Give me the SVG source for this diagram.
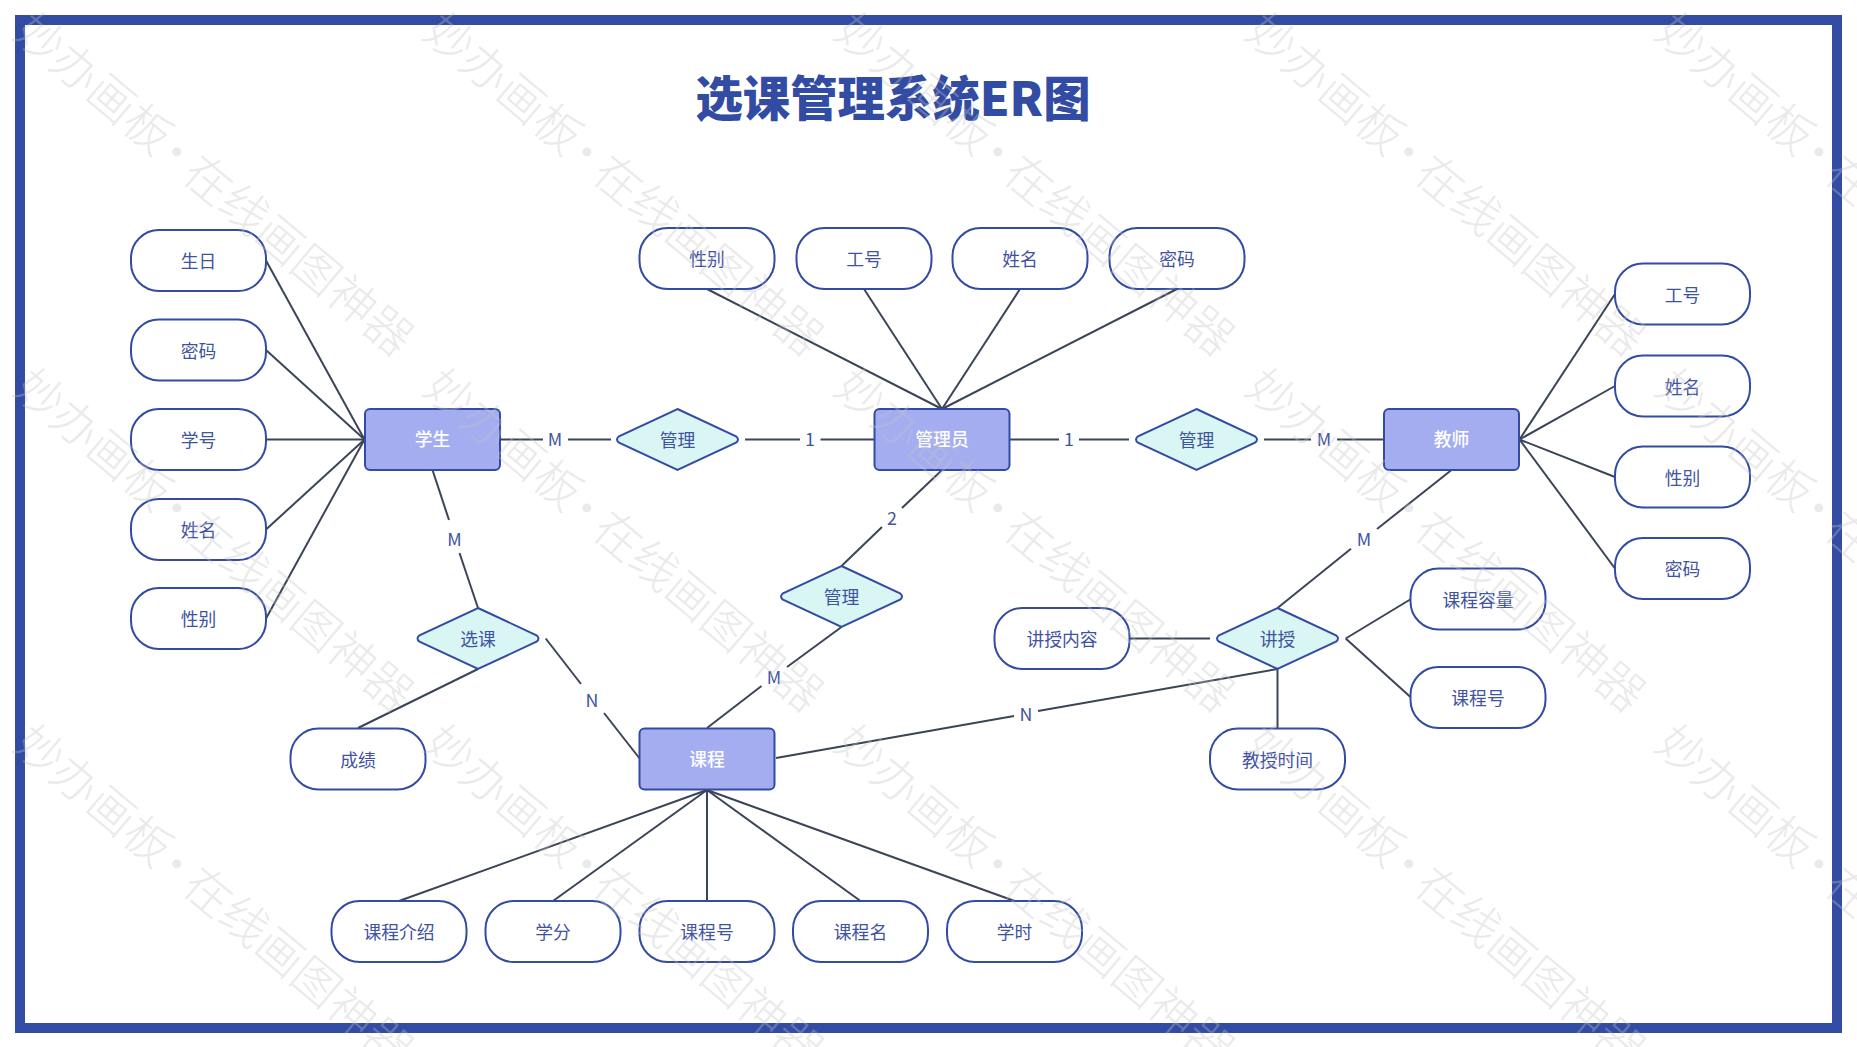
<svg xmlns="http://www.w3.org/2000/svg" width="1857" height="1047" viewBox="0 0 1857 1047">
<style>
text{font-family:"Noto Sans CJK SC","Noto Sans",sans-serif;text-anchor:middle;dominant-baseline:central;font-size:17.8px;fill:#3f539f}
g text{transform:translateY(-1.2px)}
.attr text{transform:translateY(-.4px)}
.rel text{transform:translateY(-.7px)}
.attr use{fill:#fff;stroke:#324ba3;stroke-width:2}
.ent use{fill:#a5adf1;stroke:#324ba3;stroke-width:2}
.ent text{fill:#fff;font-weight:500}
.rel use{fill:#d9f5f4;stroke:#324ba3;stroke-width:2}
#connectors line{stroke:#3a4558;stroke-width:2;fill:none}
#title{font-size:47.4px;font-weight:900;fill:#324ba3}
#frame{fill:#fff;stroke:#324ba3;stroke-width:10}
.wm{font-size:47px;font-weight:300;fill:#c4c4c4;fill-opacity:.36;text-anchor:start;dominant-baseline:auto}
</style>
<defs>
<rect id="pill" x="-67.5" y="-30.5" width="135" height="61" rx="28" ry="28"/>
<rect id="box" x="-67.5" y="-30.5" width="135" height="61" rx="5" ry="5"/>
<path id="dia" d="M0-30.5L58.5-3.2Q62.5 0 58.5 3.2L0 30.5L-58.5 3.2Q-62.5 0-58.5-3.2Z"/>
<text id="wmt" class="wm" transform="rotate(40)">妙办画板<tspan dx="-10">·</tspan><tspan dx="-5">在线画图神器</tspan></text>
</defs>
<rect id="frame" x="20" y="20" width="1817" height="1008"/>
<text id="title" x="893" y="95.5">选课管理系统ER图</text>
<g id="connectors">
<line x1="266" y1="260.5" x2="364.5" y2="439.5"/><line x1="266" y1="350" x2="364.5" y2="439.5"/><line x1="266" y1="439.5" x2="364.5" y2="439.5"/><line x1="266" y1="529.5" x2="364.5" y2="439.5"/><line x1="266" y1="618.5" x2="364.5" y2="439.5"/>
<line x1="707" y1="289" x2="942" y2="409"/><line x1="864" y1="289" x2="942" y2="409"/><line x1="1020" y1="289" x2="942" y2="409"/><line x1="1177" y1="289" x2="942" y2="409"/>
<line x1="1519.5" y1="439.5" x2="1615" y2="294"/><line x1="1519.5" y1="439.5" x2="1615" y2="386"/><line x1="1519.5" y1="439.5" x2="1615" y2="477"/><line x1="1519.5" y1="439.5" x2="1615" y2="568.5"/>
<line x1="707" y1="790" x2="399" y2="901"/><line x1="707" y1="790" x2="553" y2="901"/><line x1="707" y1="790" x2="707" y2="901"/><line x1="707" y1="790" x2="860.5" y2="901"/><line x1="707" y1="790" x2="1014.5" y2="901"/>
<line x1="500" y1="439.5" x2="543" y2="439.5"/><line x1="568" y1="439.5" x2="611" y2="439.5"/>
<line x1="745" y1="439.5" x2="800" y2="439.5"/><line x1="820.5" y1="439.5" x2="874" y2="439.5"/>
<line x1="1009.5" y1="439.5" x2="1059" y2="439.5"/><line x1="1079" y1="439.5" x2="1129" y2="439.5"/>
<line x1="1264" y1="439.5" x2="1311" y2="439.5"/><line x1="1337" y1="439.5" x2="1384" y2="439.5"/>
<line x1="432.5" y1="470" x2="449" y2="520"/><line x1="459.5" y1="553" x2="478" y2="608"/>
<line x1="942" y1="470" x2="902" y2="508"/><line x1="882" y1="527" x2="841.5" y2="566"/>
<line x1="841.5" y1="627" x2="787" y2="667"/><line x1="761.5" y1="686" x2="707" y2="728"/>
<line x1="545.7" y1="638.5" x2="581" y2="684"/><line x1="604" y1="713" x2="640" y2="759"/>
<line x1="478" y1="669" x2="358" y2="728"/>
<line x1="776" y1="758" x2="1014" y2="716"/><line x1="1038" y1="711" x2="1277.5" y2="669"/>
<line x1="1277.5" y1="669" x2="1277.5" y2="728"/>
<line x1="1129" y1="638.5" x2="1210" y2="638.5"/>
<line x1="1345.7" y1="638.5" x2="1411" y2="599"/><line x1="1345.7" y1="638.5" x2="1411" y2="697.5"/>
<line x1="1451.5" y1="470" x2="1377" y2="529"/><line x1="1351" y1="548.7" x2="1277.5" y2="608"/>
<text x="555" y="439.5">M</text><text x="810" y="439.5">1</text><text x="1069" y="439.5">1</text><text x="1324" y="439.5">M</text>
<text x="454.5" y="539.5">M</text><text x="892" y="518.5">2</text><text x="774" y="677.5">M</text><text x="592" y="700">N</text><text x="1026" y="714.5">N</text><text x="1364" y="539.5">M</text>
</g>
<g id="student" class="ent" transform="translate(432.5 439.5)"><use href="#box"/><text>学生</text></g>
<g id="admin" class="ent" transform="translate(942 439.5)"><use href="#box"/><text>管理员</text></g>
<g id="teacher" class="ent" transform="translate(1451.5 439.5)"><use href="#box"/><text>教师</text></g>
<g id="course" class="ent" transform="translate(707 759)"><use href="#box"/><text>课程</text></g>
<g id="rel-sa" class="rel" transform="translate(677.5 439.5)"><use href="#dia"/><text>管理</text></g>
<g id="rel-at" class="rel" transform="translate(1196.5 439.5)"><use href="#dia"/><text>管理</text></g>
<g id="rel-ac" class="rel" transform="translate(841.5 596.5)"><use href="#dia"/><text>管理</text></g>
<g id="rel-sc" class="rel" transform="translate(478 638.5)"><use href="#dia"/><text>选课</text></g>
<g id="rel-tc" class="rel" transform="translate(1277.5 638.5)"><use href="#dia"/><text>讲授</text></g>
<g id="s-birth" class="attr" transform="translate(198.5 260.5)"><use href="#pill"/><text>生日</text></g>
<g id="s-pass" class="attr" transform="translate(198.5 350)"><use href="#pill"/><text>密码</text></g>
<g id="s-no" class="attr" transform="translate(198.5 439.5)"><use href="#pill"/><text>学号</text></g>
<g id="s-name" class="attr" transform="translate(198.5 529.5)"><use href="#pill"/><text>姓名</text></g>
<g id="s-sex" class="attr" transform="translate(198.5 618.5)"><use href="#pill"/><text>性别</text></g>
<g id="a-sex" class="attr" transform="translate(707 258.5)"><use href="#pill"/><text>性别</text></g>
<g id="a-no" class="attr" transform="translate(864 258.5)"><use href="#pill"/><text>工号</text></g>
<g id="a-name" class="attr" transform="translate(1020 258.5)"><use href="#pill"/><text>姓名</text></g>
<g id="a-pass" class="attr" transform="translate(1177 258.5)"><use href="#pill"/><text>密码</text></g>
<g id="t-no" class="attr" transform="translate(1682.5 294)"><use href="#pill"/><text>工号</text></g>
<g id="t-name" class="attr" transform="translate(1682.5 386)"><use href="#pill"/><text>姓名</text></g>
<g id="t-sex" class="attr" transform="translate(1682.5 477)"><use href="#pill"/><text>性别</text></g>
<g id="t-pass" class="attr" transform="translate(1682.5 568.5)"><use href="#pill"/><text>密码</text></g>
<g id="grade" class="attr" transform="translate(358 759)"><use href="#pill"/><text>成绩</text></g>
<g id="c-intro" class="attr" transform="translate(399 931.5)"><use href="#pill"/><text>课程介绍</text></g>
<g id="c-credit" class="attr" transform="translate(553 931.5)"><use href="#pill"/><text>学分</text></g>
<g id="c-no" class="attr" transform="translate(707 931.5)"><use href="#pill"/><text>课程号</text></g>
<g id="c-name" class="attr" transform="translate(860.5 931.5)"><use href="#pill"/><text>课程名</text></g>
<g id="c-hours" class="attr" transform="translate(1014.5 931.5)"><use href="#pill"/><text>学时</text></g>
<g id="content" class="attr" transform="translate(1062 638.5)"><use href="#pill"/><text>讲授内容</text></g>
<g id="time" class="attr" transform="translate(1277.5 759)"><use href="#pill"/><text>教授时间</text></g>
<g id="capacity" class="attr" transform="translate(1478 599)"><use href="#pill"/><text>课程容量</text></g>
<g id="tc-no" class="attr" transform="translate(1478 697.5)"><use href="#pill"/><text>课程号</text></g>
<g id="watermark">
<use href="#wmt" x="11" y="36"/><use href="#wmt" x="421" y="36"/><use href="#wmt" x="832" y="36"/><use href="#wmt" x="1243" y="36"/><use href="#wmt" x="1653" y="36"/>
<use href="#wmt" x="11" y="392"/><use href="#wmt" x="421" y="392"/><use href="#wmt" x="832" y="392"/><use href="#wmt" x="1243" y="392"/><use href="#wmt" x="1653" y="392"/>
<use href="#wmt" x="11" y="748"/><use href="#wmt" x="421" y="748"/><use href="#wmt" x="832" y="748"/><use href="#wmt" x="1243" y="748"/><use href="#wmt" x="1653" y="748"/>
</g>
</svg>
